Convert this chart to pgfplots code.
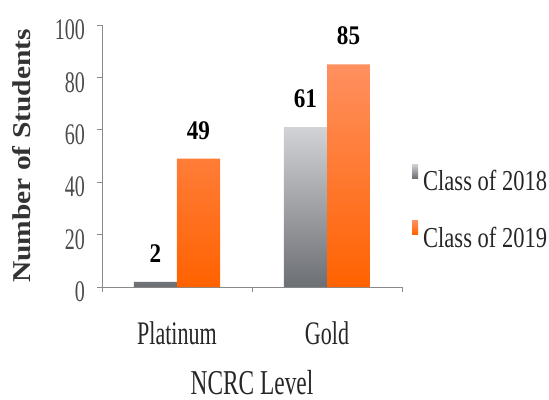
\documentclass[border=0pt]{standalone}
\usepackage{pgfplots}
\pgfplotsset{compat=1.18}
\usepackage{fontspec}
\setmainfont{Liberation Serif}
\newfontfamily\ftick[FakeStretch=0.67]{Liberation Serif}
\newfontfamily\fleg[FakeStretch=0.78]{Liberation Serif}
\newfontfamily\fval[FakeStretch=0.86]{Liberation Serif}
\definecolor{axgray}{HTML}{8A8A8A}
\definecolor{tickgray}{HTML}{4A4A4A}
\definecolor{gtop}{HTML}{D2D3D6}
\definecolor{gbot}{HTML}{6C6F74}
\definecolor{otop}{HTML}{FF9060}
\definecolor{obot}{HTML}{FF6200}
\begin{document}
\begin{tikzpicture}
\useasboundingbox (-102bp,-113bp) rectangle (447bp,287bp);
\begin{axis}[
  at={(0bp,0bp)}, anchor=south west,
  scale only axis, width=300bp, height=262bp,
  xmin=-0.5, xmax=1.5, ymin=0, ymax=100,
  axis x line*=bottom, axis y line*=left,
  axis line style={axgray, line width=0.9bp},
  every tick/.style={axgray, line width=0.9bp},
  tick align=outside, major tick length=5bp,
  ytick={0,20,40,60,80,100},
  xtick={-0.5,0.5,1.5}, xticklabels={},
  extra x ticks={0,1}, extra x tick labels={Platinum,Gold},
  extra x tick style={major tick length=0pt},
  /pgf/number format/assume math mode=true,
  yticklabel style={font=\ftick\fontsize{30}{30}\selectfont, text=tickgray, inner sep=0pt, anchor=east, xshift=-12bp, yshift=-5bp},
  xticklabel style={font=\ftick\fontsize{33}{33}\selectfont, text=black!85, inner sep=0pt, anchor=base, yshift=-57bp},
  xlabel={NCRC Level},
  xlabel style={at={(axis description cs:0.5,0)}, anchor=base, yshift=-107bp, font=\ftick\fontsize{35}{35}\selectfont, text=black!85, inner sep=0pt},
  ylabel={\scalebox{1}[0.87]{\bfseries Number of Students}},
  every axis y label/.style={at={(axis description cs:0,0.5)}, rotate=90, anchor=center, yshift=80bp, font=\fontsize{29.6}{30}\selectfont, text=black!80, inner sep=0pt},
  ybar=0pt, bar width=43bp,
  nodes near coords,
  every node near coord/.append style={font=\fval\bfseries\fontsize{27}{27}\selectfont, text=black, anchor=south, inner sep=0pt, yshift=19bp},
  clip=false,
  legend image code/.code={\path[#1, draw=none] (0bp,3bp) rectangle (6bp,17bp);},
  legend style={at={(rel axis cs:1.0333,0.47)}, anchor=north west, draw=none, fill=none, inner sep=0pt, row sep=30bp, column sep=5bp, font=\fleg\fontsize{29}{29}\selectfont, text=black!85, nodes={inner sep=0pt, text height=19bp, text depth=0pt}},
  legend cell align=left,
]
\addplot[draw=none, top color=gtop, bottom color=gbot] coordinates {(0,2) (1,61)};
\addlegendentry{Class of 2018}
\addplot[draw=none, top color=otop, bottom color=obot] coordinates {(0,49) (1,85)};
\addlegendentry{Class of 2019}
\end{axis}
\end{tikzpicture}
\end{document}
